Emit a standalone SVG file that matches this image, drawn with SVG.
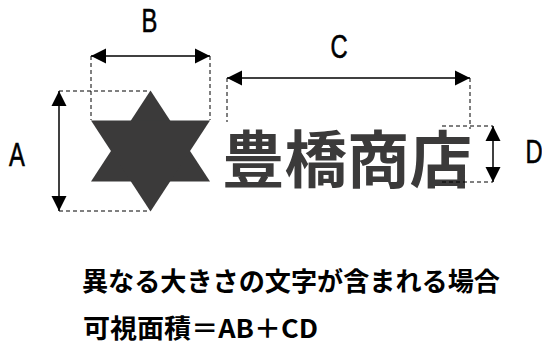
<svg xmlns="http://www.w3.org/2000/svg" width="542" height="345" viewBox="0 0 542 345">
<style>
.dim{stroke:#000;stroke-width:1.5;fill:none}
.dash{stroke:#000;stroke-width:1;stroke-dasharray:4 3;fill:none}
.lbl{font-family:"Liberation Sans","DejaVu Sans",sans-serif;font-size:33px;fill:#000;stroke:#000;stroke-width:0.6;text-anchor:middle}
.cap{font-family:"Noto Sans CJK JP","Noto Sans CJK SC",sans-serif;font-weight:700;fill:#000;font-size:26px}
.big{font-family:"Noto Sans CJK JP","Noto Sans CJK SC",sans-serif;font-weight:700;fill:#3b3a3a;font-size:62px}
</style>
<defs>
<marker id="ah" markerUnits="userSpaceOnUse" markerWidth="16" markerHeight="16" viewBox="0 0 16 16" refX="15" refY="8" orient="auto-start-reverse">
<path d="M0,0.5 L15,8 L0,15.5 Z" fill="#000"/>
</marker>
</defs>
<rect width="542" height="345" fill="#fff"/>
<g id="star">
<polygon points="150.5,90.5 91,181.5 210,181.5" fill="#3b3a3a"/>
<polygon points="150.5,211.5 91,120.5 210,120.5" fill="#3b3a3a"/>
</g>
<g id="shop-name">
<text class="big" x="222" y="183" textLength="250" lengthAdjust="spacingAndGlyphs">豊橋商店</text>
</g>
<g id="labels">
<text class="lbl" transform="translate(149.5,31.7) scale(0.72,1)">B</text>
<text class="lbl" transform="translate(17,166) scale(0.72,1)">A</text>
<text class="lbl" transform="translate(339,58) scale(0.72,1)">C</text>
<text class="lbl" transform="translate(534,163) scale(0.72,1)">D</text>
</g>
<g id="caption">
<text class="cap" x="82" y="291" textLength="418" lengthAdjust="spacingAndGlyphs">異なる大きさの文字が含まれる場合</text>
<text class="cap" x="83" y="338" textLength="235" lengthAdjust="spacingAndGlyphs">可視面積＝AB＋CD</text>
</g>
<g id="connectors">
<line class="dash" x1="91" y1="56" x2="91" y2="120"/>
<line class="dash" x1="210" y1="56" x2="210" y2="120"/>
<line class="dash" x1="59" y1="91" x2="150" y2="91"/>
<line class="dash" x1="59" y1="211" x2="150" y2="211"/>
<line class="dash" x1="227" y1="78" x2="227" y2="122"/>
<line class="dash" x1="470" y1="78" x2="470" y2="129"/>
<line class="dash" x1="442" y1="126" x2="493" y2="126"/>
<line class="dash" x1="442" y1="182" x2="493" y2="182"/>
<line class="dim" x1="91" y1="56" x2="210" y2="56" marker-start="url(#ah)" marker-end="url(#ah)"/>
<line class="dim" x1="59" y1="91" x2="59" y2="211" marker-start="url(#ah)" marker-end="url(#ah)"/>
<line class="dim" x1="227" y1="78" x2="470" y2="78" marker-start="url(#ah)" marker-end="url(#ah)"/>
<line class="dim" x1="493" y1="126" x2="493" y2="182" marker-start="url(#ah)" marker-end="url(#ah)"/>
</g>
</svg>
